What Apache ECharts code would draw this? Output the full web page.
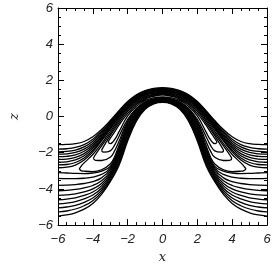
<!DOCTYPE html>
<html>
<head>
<meta charset="utf-8">
<script src="https://cdn.jsdelivr.net/npm/echarts@6/dist/echarts.min.js"></script>
<style>html,body{margin:0;padding:0;background:#fff}#c{width:277px;height:269px}</style>
</head>
<body>
<div id="c"></div>
<script>
// shared x positions for the open curves
const xs = [-6,-5.5,-5,-4.5,-4,-3.5,-3,-2.5,-2,-1.5,-1,-0.5,0,0.5,1,1.5,2,2.5,3,3.5,4,4.5,5,5.5,6];
// upper family (outer side of the bump)
const u0 = [-1.55,-1.54,-1.50,-1.38,-1.12,-0.72,-0.22,0.33,0.83,1.20,1.43,1.56,1.60,1.56,1.43,1.20,0.83,0.33,-0.22,-0.72,-1.12,-1.38,-1.50,-1.54,-1.55];
const u1 = [-1.80,-1.78,-1.71,-1.55,-1.25,-0.81,-0.28,0.28,0.80,1.18,1.40,1.53,1.56,1.53,1.40,1.18,0.80,0.28,-0.28,-0.81,-1.25,-1.55,-1.71,-1.78,-1.80];
const u2 = [-1.95,-1.93,-1.85,-1.68,-1.36,-0.89,-0.34,0.24,0.76,1.15,1.37,1.49,1.52,1.49,1.37,1.15,0.76,0.24,-0.34,-0.89,-1.36,-1.68,-1.85,-1.93,-1.95];
const u3 = [-2.08,-2.06,-1.98,-1.80,-1.47,-0.97,-0.40,0.19,0.72,1.12,1.34,1.45,1.48,1.45,1.34,1.12,0.72,0.19,-0.40,-0.97,-1.47,-1.80,-1.98,-2.06,-2.08];
const u4 = [-2.22,-2.20,-2.12,-1.92,-1.57,-1.05,-0.46,0.14,0.68,1.08,1.30,1.41,1.45,1.41,1.30,1.08,0.68,0.14,-0.46,-1.05,-1.57,-1.92,-2.12,-2.20,-2.22];
const u5 = [-2.37,-2.35,-2.26,-2.05,-1.67,-1.13,-0.52,0.09,0.64,1.04,1.27,1.38,1.41,1.38,1.27,1.04,0.64,0.09,-0.52,-1.13,-1.67,-2.05,-2.26,-2.35,-2.37];
const u6 = [-2.52,-2.50,-2.40,-2.17,-1.76,-1.20,-0.58,0.04,0.60,1.00,1.24,1.35,1.38,1.35,1.24,1.00,0.60,0.04,-0.58,-1.20,-1.76,-2.17,-2.40,-2.50,-2.52];
const u7 = [-2.67,-2.65,-2.54,-2.29,-1.86,-1.28,-0.64,0.00,0.57,0.96,1.20,1.31,1.34,1.31,1.20,0.96,0.57,0.00,-0.64,-1.28,-1.86,-2.29,-2.54,-2.65,-2.67];
const u8 = [-2.83,-2.80,-2.68,-2.40,-1.95,-1.35,-0.70,-0.05,0.53,0.93,1.17,1.28,1.31,1.28,1.17,0.93,0.53,-0.05,-0.70,-1.35,-1.95,-2.40,-2.68,-2.80,-2.83];
// lower family (inner side of the bump)
const m0 = [-3.10,-3.12,-3.14,-3.15,-3.12,-3.02,-2.75,-1.75,-0.45,0.30,0.70,0.91,0.96,0.91,0.70,0.30,-0.45,-1.75,-2.75,-3.02,-3.12,-3.15,-3.14,-3.12,-3.10];
const m1 = [-3.42,-3.43,-3.43,-3.41,-3.35,-3.20,-2.85,-1.85,-0.55,0.24,0.67,0.89,0.94,0.89,0.67,0.24,-0.55,-1.85,-2.85,-3.20,-3.35,-3.41,-3.43,-3.43,-3.42];
const m2 = [-3.80,-3.79,-3.76,-3.70,-3.60,-3.39,-2.95,-1.96,-0.65,0.18,0.63,0.87,0.92,0.87,0.63,0.18,-0.65,-1.96,-2.95,-3.39,-3.60,-3.70,-3.76,-3.79,-3.80];
const m3 = [-4.10,-4.08,-4.03,-3.94,-3.81,-3.55,-3.05,-2.07,-0.75,0.12,0.60,0.85,0.90,0.85,0.60,0.12,-0.75,-2.07,-3.05,-3.55,-3.81,-3.94,-4.03,-4.08,-4.10];
const m4 = [-4.36,-4.33,-4.27,-4.16,-4.00,-3.70,-3.14,-2.17,-0.85,0.06,0.56,0.83,0.88,0.83,0.56,0.06,-0.85,-2.17,-3.14,-3.70,-4.00,-4.16,-4.27,-4.33,-4.36];
const m5 = [-4.60,-4.56,-4.49,-4.36,-4.17,-3.83,-3.23,-2.28,-0.95,0.00,0.53,0.80,0.86,0.80,0.53,0.00,-0.95,-2.28,-3.23,-3.83,-4.17,-4.36,-4.49,-4.56,-4.60];
const m6 = [-4.83,-4.78,-4.70,-4.55,-4.34,-3.96,-3.32,-2.38,-1.05,-0.06,0.49,0.78,0.84,0.78,0.49,-0.06,-1.05,-2.38,-3.32,-3.96,-4.34,-4.55,-4.70,-4.78,-4.83];
const m7 = [-5.05,-5.00,-4.91,-4.74,-4.50,-4.08,-3.42,-2.49,-1.15,-0.12,0.46,0.76,0.82,0.76,0.46,-0.12,-1.15,-2.49,-3.42,-4.08,-4.50,-4.74,-4.91,-5.00,-5.05];
const m8 = [-5.27,-5.22,-5.11,-4.93,-4.65,-4.19,-3.51,-2.60,-1.25,-0.18,0.43,0.73,0.80,0.73,0.43,-0.18,-1.25,-2.60,-3.51,-4.19,-4.65,-4.93,-5.11,-5.22,-5.27];
const m9 = [-5.50,-5.44,-5.32,-5.12,-4.80,-4.30,-3.60,-2.70,-1.35,-0.25,0.40,0.70,0.78,0.70,0.40,-0.25,-1.35,-2.70,-3.60,-4.30,-4.80,-5.12,-5.32,-5.44,-5.50];
// closed loops, as [x, z] paths
const loop1 = [[-4.78,-2.90],[-4.68,-2.75],[-4.5,-2.56],[-4,-2.10],[-3.5,-1.50],[-3,-0.82],[-2.5,-0.14],[-2,0.46],[-1.5,0.87],[-1,1.12],[-0.5,1.24],[0,1.28],[0.5,1.24],[1,1.12],[1.5,0.87],[2,0.46],[2.5,-0.14],[3,-0.82],[3.5,-1.50],[4,-2.10],[4.5,-2.56],[4.68,-2.75],[4.78,-2.90],[4.65,-3.00],[4.5,-3.02],[4,-3.04],[3.5,-2.94],[3,-2.62],[2.75,-2.22],[2.5,-1.60],[2,-0.35],[1.5,0.36],[1,0.74],[0.5,0.93],[0,0.99],[-0.5,0.93],[-1,0.74],[-1.5,0.36],[-2,-0.35],[-2.5,-1.60],[-2.75,-2.22],[-3,-2.62],[-3.5,-2.94],[-4,-3.04],[-4.5,-3.02],[-4.65,-3.00],[-4.78,-2.90]];
const loop2 = [[-3.97,-2.32],[-3.9,-2.18],[-3.5,-1.62],[-3,-0.94],[-2.5,-0.24],[-2,0.38],[-1.5,0.81],[-1,1.08],[-0.5,1.20],[0,1.25],[0.5,1.20],[1,1.08],[1.5,0.81],[2,0.38],[2.5,-0.24],[3,-0.94],[3.5,-1.62],[3.9,-2.18],[3.97,-2.32],[3.85,-2.42],[3.5,-2.43],[3,-2.25],[2.75,-1.90],[2.5,-1.38],[2,-0.25],[1.5,0.40],[1,0.78],[0.5,0.95],[0,1.02],[-0.5,0.95],[-1,0.78],[-1.5,0.40],[-2,-0.25],[-2.5,-1.38],[-2.75,-1.90],[-3,-2.25],[-3.5,-2.43],[-3.85,-2.42],[-3.97,-2.32]];
const loop3 = [[-3.5,-1.88],[-3.42,-1.72],[-3,-1.06],[-2.5,-0.35],[-2,0.29],[-1.5,0.74],[-1,1.03],[-0.5,1.16],[0,1.22],[0.5,1.16],[1,1.03],[1.5,0.74],[2,0.29],[2.5,-0.35],[3,-1.06],[3.42,-1.72],[3.5,-1.88],[3.38,-1.97],[3,-1.90],[2.75,-1.58],[2.5,-1.10],[2,-0.15],[1.5,0.45],[1,0.82],[0.5,0.98],[0,1.05],[-0.5,0.98],[-1,0.82],[-1.5,0.45],[-2,-0.15],[-2.5,-1.10],[-2.75,-1.58],[-3,-1.90],[-3.38,-1.97],[-3.5,-1.88]];
const loop4 = [[-3.12,-1.42],[-3.05,-1.28],[-2.75,-0.85],[-2.5,-0.48],[-2,0.18],[-1.5,0.67],[-1,0.98],[-0.5,1.12],[0,1.20],[0.5,1.12],[1,0.98],[1.5,0.67],[2,0.18],[2.5,-0.48],[2.75,-0.85],[3.05,-1.28],[3.12,-1.42],[3.0,-1.50],[2.75,-1.28],[2.5,-0.85],[2,0.04],[1.5,0.56],[1,0.89],[0.5,1.03],[0,1.08],[-0.5,1.03],[-1,0.89],[-1.5,0.56],[-2,0.04],[-2.5,-0.85],[-2.75,-1.28],[-3.0,-1.50],[-3.12,-1.42]];
const tickValues = [-6,-4,-2,0,2,4,6];

const openCurves = [u0,u1,u2,u3,u4,u5,u6,u7,u8,m0,m1,m2,m3,m4,m5,m6,m7,m8,m9];
const loops = [loop1,loop2,loop3,loop4];

const lineStyle = {color:'#000', width:1.3};
const series = [];
openCurves.forEach(c => series.push({type:'line', data: xs.map((x,i)=>[x,c[i]]), smooth:0.4, showSymbol:false, lineStyle, silent:true}));
loops.forEach(l => series.push({type:'line', data: l, smooth:0.4, showSymbol:false, lineStyle, silent:true}));

const fmt = v => String(v).replace('-', '\u2212');
const labelStyle = {fontFamily:'Liberation Sans', fontStyle:'italic', fontSize:13, color:'#222'};
const nameStyle = {fontFamily:'DejaVu Serif', fontStyle:'italic', fontSize:13, color:'#222'};
function axis(pos, main, name){
  return {
    type:'value', min:tickValues[0], max:tickValues[tickValues.length-1], interval:2, position:pos,
    axisLine:{show:true, onZero:false, lineStyle:{color:'#000', width:1}},
    axisTick:{show:true, inside:true, length:6, lineStyle:{color:'#000'}},
    minorTick:{show:true, splitNumber:4, length:3, lineStyle:{color:'#000'}},
    splitLine:{show:false},
    axisLabel: main ? Object.assign({formatter:fmt, margin: (pos==='bottom'?8:5)}, labelStyle) : {show:false},
    name: main ? name : '', nameLocation:'middle', nameGap: pos==='bottom'?25:37, nameRotate: pos==='left'?90:0,
    nameTextStyle: nameStyle
  };
}
const chart = echarts.init(document.getElementById('c'), null, {renderer:'canvas'});
chart.setOption({
  animation:false,
  grid:{left:47, right:10, top:8, bottom:42},
  xAxis:[axis('bottom', true, 'x'), axis('top', false, '')],
  yAxis:[axis('left', true, 'z'), axis('right', false, '')],
  series
});
</script>
</body>
</html>
